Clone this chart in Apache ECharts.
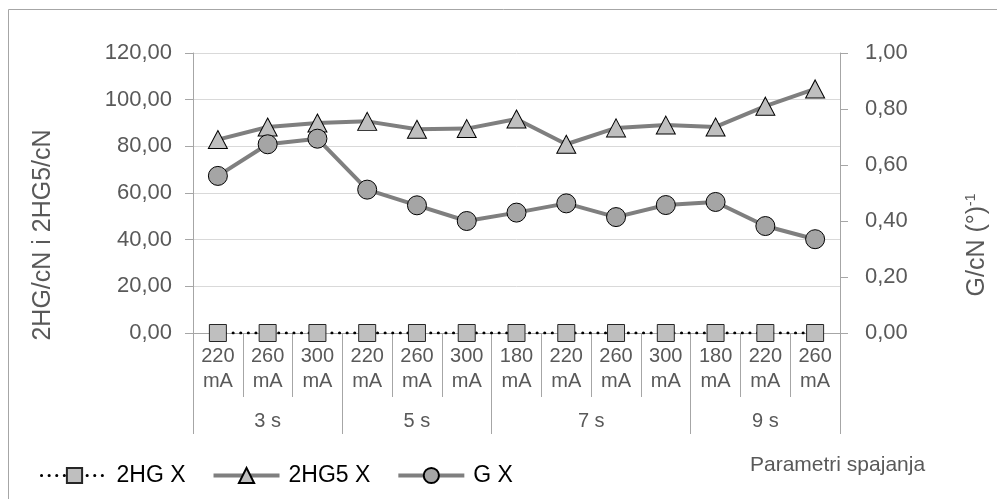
<!DOCTYPE html>
<html>
<head>
<meta charset="utf-8">
<script src="https://cdn.jsdelivr.net/npm/echarts@6/dist/echarts.min.js"></script>
<style>
html,body{margin:0;padding:0;background:#fff;}
#chart{width:997px;height:499px;}
</style>
</head>
<body>
<div id="chart"></div>
<script>
// ---- data ----
var categories = ['220 mA','260 mA','300 mA','220 mA','260 mA','300 mA','180 mA','220 mA','260 mA','300 mA','180 mA','220 mA','260 mA'];
var groups = ['3 s','5 s','7 s','9 s'];
var groupSizes = [3, 3, 4, 3];
var hgX = [0, 0, 0, 0, 0, 0, 0, 0, 0, 0, 0, 0, 0];
var hg5X = [82.9, 88.3, 90.0, 90.7, 87.3, 87.6, 91.7, 80.9, 87.9, 89.1, 88.3, 97.2, 104.6];
var gX = [0.561, 0.674, 0.694, 0.512, 0.456, 0.400, 0.430, 0.463, 0.414, 0.457, 0.468, 0.382, 0.335];
var leftTicks = [0, 20, 40, 60, 80, 100, 120];
var rightTicks = [0, 0.2, 0.4, 0.6, 0.8, 1.0];

// ---- build group axis ----
var groupAxisData = [];
var groupBoundaries = {};
var start = 0;
groups.forEach(function (g, gi) {
  var n = groupSizes[gi];
  groupBoundaries[start] = true;
  for (var k = 0; k < n; k++) groupAxisData.push('');
  var mid = start + (n - 1) / 2;
  var idx = Math.floor(mid);
  if (mid === idx) {
    groupAxisData[idx] = g;
  } else {
    groupAxisData[idx] = { value: g, textStyle: { padding: [0, 0, 0, 50] } };
  }
  start += n;
});

var FONT = '"Liberation Sans", Arial, sans-serif';
var AXIS_GREY = '#a6a6a6';
var TXT = '#595959';
function fmt(v) { return v.toFixed(2).replace('.', ','); }

var chart = echarts.init(document.getElementById('chart'), null, { renderer: 'canvas' });
chart.setOption({
  backgroundColor: '#ffffff',
  animation: false,
  textStyle: { fontFamily: FONT },
  grid: { left: 193, right: 157, top: 53, bottom: 166, containLabel: false, outerBoundsMode: 'none' },
  legend: {
    left: 35, top: 459,
    itemWidth: 66, itemHeight: 19, itemGap: 26,
    textStyle: { fontFamily: FONT, fontSize: 23, color: '#000', padding: [0, 0, 0, 4] },
    data: [
      { name: '2HG X', lineStyle: { width: 3 } },
      { name: '2HG5 X', lineStyle: { width: 4 } },
      { name: 'G X', lineStyle: { width: 4 } }
    ]
  },
  xAxis: [
    {
      type: 'category',
      data: categories,
      boundaryGap: true,
      axisLine: { show: true, lineStyle: { color: AXIS_GREY, width: 1 } },
      axisTick: { show: true, interval: 0, length: 64, lineStyle: { color: AXIS_GREY } },
      axisLabel: {
        interval: 0, margin: 11, color: TXT, fontSize: 20, lineHeight: 25, fontFamily: FONT,
        formatter: function (v) { return v.replace(' ', '\n'); }
      },
      splitLine: { show: false }
    },
    {
      type: 'category',
      data: groupAxisData,
      position: 'bottom',
      boundaryGap: true,
      axisLine: { show: false },
      axisTick: {
        show: true, length: 101, lineStyle: { color: AXIS_GREY },
        interval: function (i) { return !!groupBoundaries[i]; }
      },
      axisLabel: { interval: 0, margin: 78, color: TXT, fontSize: 20, lineHeight: 20, fontFamily: FONT },
      splitLine: { show: false }
    }
  ],
  yAxis: [
    {
      type: 'value', min: 0, max: 120, interval: 20,
      name: '2HG/cN i 2HG5/cN',
      nameLocation: 'middle', nameGap: 137,
      nameTextStyle: { fontSize: 25, color: TXT, fontFamily: FONT, padding: [0, 84, 0, 0] },
      axisLine: { show: true, lineStyle: { color: AXIS_GREY } },
      axisTick: { show: true, inside: false, length: 8, lineStyle: { color: AXIS_GREY } },
      axisLabel: { margin: 21, color: TXT, fontSize: 22, fontFamily: FONT, formatter: fmt },
      splitLine: { show: true, lineStyle: { color: '#d9d9d9', width: 1 } }
    },
    {
      type: 'value', min: 0, max: 1, interval: 0.2,
      position: 'right',
      name: 'G/cN (°){sup|-1}',
      nameLocation: 'middle', nameGap: 124,
      nameTextStyle: {
        fontSize: 25, color: TXT, fontFamily: FONT, padding: [0, 104, 0, 0],
        rich: { sup: { fontSize: 14, color: TXT, fontFamily: FONT, verticalAlign: 'top', padding: [0, 0, 12, 0] } }
      },
      axisLine: { show: true, lineStyle: { color: AXIS_GREY } },
      axisTick: { show: true, inside: false, length: 8, lineStyle: { color: AXIS_GREY } },
      axisLabel: { margin: 25, color: TXT, fontSize: 22, fontFamily: FONT, formatter: fmt },
      splitLine: { show: false }
    }
  ],
  series: [
    {
      name: '2HG X', type: 'line', xAxisIndex: 0, yAxisIndex: 0, data: hgX,
      symbol: 'rect', symbolSize: 17,
      itemStyle: { color: '#bfbfbf', borderColor: '#262626', borderWidth: 1 },
      lineStyle: { color: '#000000', width: 3, type: [0.1, 7.5], cap: 'round' },
      z: 3
    },
    {
      name: '2HG5 X', type: 'line', xAxisIndex: 0, yAxisIndex: 0, data: hg5X,
      symbol: 'triangle', symbolSize: [19, 18],
      itemStyle: { color: '#bfbfbf', borderColor: '#000000', borderWidth: 1 },
      lineStyle: { color: '#7f7f7f', width: 4 },
      z: 4
    },
    {
      name: 'G X', type: 'line', xAxisIndex: 0, yAxisIndex: 1, data: gX,
      symbol: 'circle', symbolSize: 19,
      itemStyle: { color: '#a5a5a5', borderColor: '#000000', borderWidth: 1 },
      lineStyle: { color: '#7f7f7f', width: 4 },
      z: 5
    }
  ],
  graphic: [
    {
      type: 'rect', silent: true, z: -1,
      shape: { x: 8.5, y: 9.5, width: 1000, height: 500 },
      style: { fill: 'none', stroke: '#a6a6a6', lineWidth: 1 }
    },
    {
      type: 'text', left: 750, top: 455, silent: true,
      style: { text: 'Parametri spajanja', fill: TXT, fontSize: 21, fontFamily: FONT }
    }
  ]
});
</script>
</body>
</html>
